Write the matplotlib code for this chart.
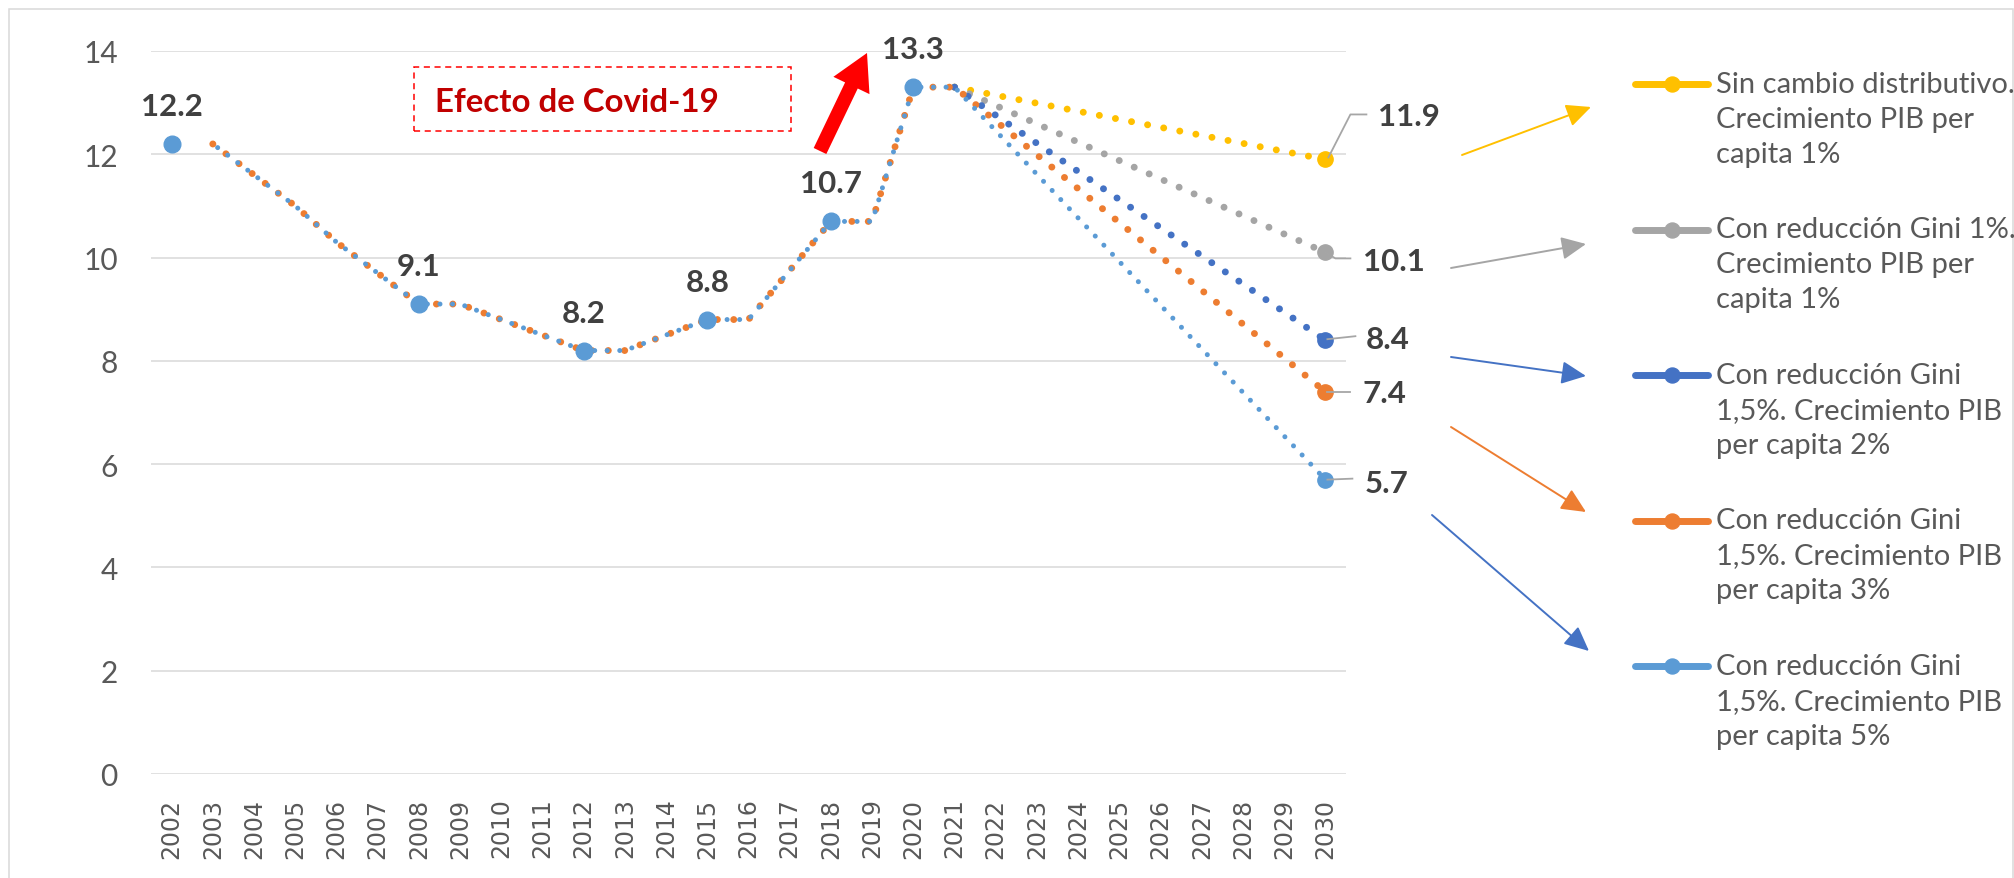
import matplotlib
matplotlib.use("Agg")
import matplotlib.pyplot as plt
from matplotlib.lines import Line2D
from matplotlib.patches import FancyArrow, FancyArrowPatch, Rectangle
from matplotlib.transforms import IdentityTransform

# ------ data
years = list(range(2002, 2031))
first_year, first_val = 2002, 12.2
hist_years = list(range(2003, 2022))
hist_vals = [12.2, 11.6, 11.0, 10.3, 9.7, 9.1, 9.1, 8.8, 8.5, 8.2,
             8.2, 8.5, 8.8, 8.8, 9.75, 10.7, 10.7, 13.3, 13.3]
labelled_years = [2002, 2008, 2012, 2015, 2018, 2020]

proj_years = [2021, 2030]
start_2021 = 13.3
end_2030 = [11.9, 10.1, 8.4, 7.4, 5.7]
colors = ['#FFC000', '#A5A5A5', '#4472C4', '#ED7D31', '#5B9BD5']
legend_text = [
    ["Sin cambio distributivo.", "Crecimiento PIB per", "capita 1%"],
    ["Con reducción Gini 1%.", "Crecimiento PIB per", "capita 1%"],
    ["Con reducción Gini", "1,5%. Crecimiento PIB", "per capita 2%"],
    ["Con reducción Gini", "1,5%. Crecimiento PIB", "per capita 3%"],
    ["Con reducción Gini", "1,5%. Crecimiento PIB", "per capita 5%"],
]
with_history = [False, False, False, True, True]

W, H = 2015, 879
FONT = ['Lato', 'DejaVu Sans']
GREY_TXT = '#595959'
DARK = '#404040'

fig = plt.figure(figsize=(W / 100, H / 100), dpi=100)
ax = fig.add_axes([151 / W, (H - 775) / H, (1346 - 151) / W, (775 - 52) / H])
px = IdentityTransform()


def top(x, y):
    # pixel position measured from top-left -> display coords
    return x, H - y


ax.set_xlim(-0.5, len(years) - 0.5)
ax.set_ylim(0, 14)
ax.set_yticks(range(0, 15, 2))
ax.set_xticks(range(len(years)))
ax.set_xticklabels([str(y) for y in years], rotation=90, fontsize=17,
                   family='DejaVu Sans', color=GREY_TXT)
for t in ax.get_yticklabels():
    t.set_fontsize(21.5)
    t.set_family(FONT)
    t.set_color(GREY_TXT)
ax.tick_params(length=0)
ax.tick_params(axis='y', pad=24)
ax.tick_params(axis='x', pad=17)
for s in ax.spines.values():
    s.set_visible(False)
ax.grid(axis='y', color='#D9D9D9', lw=1.1)
ax.set_axisbelow(True)


def xi(y):
    return y - years[0]


# ------ scenario series (dotted)
for i, c in enumerate(colors):
    if with_history[i]:
        xs = [xi(y) for y in hist_years] + [xi(2030)]
        ys = hist_vals + [end_2030[i]]
    else:
        xs = [xi(y) for y in proj_years]
        ys = [start_2021, end_2030[i]]
    if i == 4:
        lw, ls = 3.6, (1.3, (0.01, 2.5))
    else:
        lw, ls = 5.0, (0, (0.01, 2.35))
    ax.plot(xs, ys, color=c, lw=lw, ls=ls, dash_capstyle='round', zorder=3 + i)
    ax.plot([xi(2030)], [end_2030[i]], 'o', color=c, ms=11, zorder=10)

# big markers on the historical line
mk_x = [xi(first_year)] + [xi(y) for y in labelled_years[1:]]
mk_y = [first_val] + [hist_vals[hist_years.index(y)] for y in labelled_years[1:]]
ax.plot(mk_x, mk_y, 'o', color=colors[4], ms=12, ls='none', zorder=10)

# value labels above historical points
for x, v in zip(mk_x, mk_y):
    ax.annotate(f"{v:.1f}", (x, v), xytext=(0, 29), textcoords='offset pixels',
                ha='center', va='baseline', fontsize=22.5, fontweight='bold',
                family=FONT, color=DARK, zorder=12)

# end labels with leader lines (offsets in pixels, display y up)
label_off = [(53, 34), (38, -18), (40, -8), (37, -10), (39, -12)]
leaders = [[(3, 2), (25, 45), (41, 45)],
           [(0, 0), (10, -6), (25, -6)],
           [(2, 1), (30, 4)],
           [(2, 0), (25, 0)],
           [(2, 0), (27, 1)]]
for i, v in enumerate(end_2030):
    pxp, pyp = ax.transData.transform((xi(2030), v))
    lx = [pxp + dx for dx, dy in leaders[i]]
    ly = [pyp + dy for dx, dy in leaders[i]]
    fig.add_artist(Line2D(lx, ly, color='#A6A6A6', lw=1.3, transform=px, zorder=11))
    fig.text(pxp + label_off[i][0], pyp + label_off[i][1], f"{v:.1f}",
             transform=px, ha='left', va='baseline', fontsize=22.5,
             fontweight='bold', family=FONT, color=DARK)

# ------ Covid-19 box and red arrow
bx0, by0 = top(414, 132)
fig.add_artist(Rectangle((bx0, by0), 377, 64, fill=False, ec='#FF0000', lw=1.1,
                         ls=(0, (4, 3)), transform=px))
fig.text(*top(435, 112), "Efecto de Covid-19", transform=px, ha='left',
         va='baseline', fontsize=23.8, fontweight='bold', family=FONT, color='#C00000')
ax0, ay0 = top(820, 152)
ax1, ay1 = top(867, 54)
fig.add_artist(FancyArrow(ax0, ay0, ax1 - ax0, ay1 - ay0, width=14, head_width=40,
                          head_length=36, length_includes_head=True,
                          color='#FF0000', lw=0, transform=px))

# ------ thin arrows towards the legend
arrows = [((1462, 156), (1591, 108), '#FFC000'),
          ((1451, 269), (1586, 245), '#A5A5A5'),
          ((1451, 358), (1586, 377), '#4472C4'),
          ((1451, 428), (1586, 513), '#ED7D31'),
          ((1432, 516), (1589, 652), '#4472C4')]
for a, b, c in arrows:
    fig.add_artist(FancyArrowPatch(top(*a), top(*b), transform=px,
                                   arrowstyle='-|>,head_length=15,head_width=7',
                                   mutation_scale=1, shrinkA=0, shrinkB=0,
                                   color=c, lw=1.4))

# ------ legend (drawn by hand)
for i, c in enumerate(colors):
    cy = 85 + 145.5 * i
    _, yy = top(0, cy)
    fig.add_artist(Line2D([1635, 1671.5, 1708], [yy, yy, yy], color=c, lw=5,
                          solid_capstyle='round', marker='o', markevery=[1],
                          ms=10.8, transform=px))
    for k, line in enumerate(legend_text[i]):
        fig.text(*top(1716, cy + 8 + 35 * k), line, transform=px, ha='left',
                 va='baseline', fontsize=21, family=FONT, color=GREY_TXT)

# outer border
fig.add_artist(Rectangle((9, -10), 2004, H - 10 + 10, fill=False, ec='#D9D9D9',
                         lw=1.1, transform=px))

fig.savefig('out.png', dpi=100)
